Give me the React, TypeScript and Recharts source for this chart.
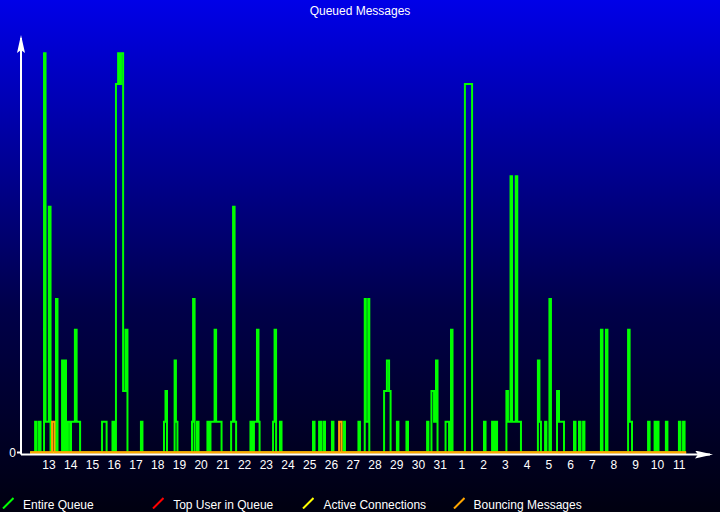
import { LineChart, Line, XAxis, YAxis } from 'recharts';

// day-of-month labels under the x axis, one per day
const dayLabels = [
  '13', '14', '15', '16', '17', '18', '19', '20', '21', '22', '23', '24', '25', '26', '27',
  '28', '29', '30', '31', '1', '2', '3', '4', '5', '6', '7', '8', '9', '10', '11'
];

// [day, queued messages] — day 1 is the 13th
const queueSamples: [number, number][] = [
  [0.13, 0],
  [0.36, 1], [0.43, 0], [0.54, 1], [0.61, 0],
  [0.77, 13], [0.84, 1], [0.99, 8], [1.07, 0],
  [1.32, 5], [1.39, 0],
  [1.60, 3], [1.64, 0], [1.71, 3], [1.78, 0],
  [1.87, 1], [1.97, 0], [2.01, 1], [2.19, 4], [2.27, 1], [2.43, 0],
  [3.44, 1], [3.65, 0], [3.92, 1], [3.99, 0],
  [4.08, 12], [4.18, 13], [4.24, 12], [4.31, 13], [4.41, 2], [4.52, 4], [4.61, 0],
  [5.23, 1], [5.30, 0],
  [6.29, 1], [6.36, 2], [6.43, 0],
  [6.78, 3], [6.84, 1], [6.91, 0],
  [7.58, 1], [7.63, 5], [7.70, 0], [7.81, 1], [7.88, 0],
  [8.29, 1], [8.36, 0], [8.43, 1], [8.62, 4], [8.69, 1], [8.94, 0],
  [9.38, 1], [9.47, 8], [9.54, 1], [9.61, 0],
  [10.27, 1], [10.34, 0], [10.43, 1], [10.57, 4], [10.64, 1], [10.69, 0],
  [11.31, 1], [11.38, 4], [11.45, 0], [11.63, 1], [11.70, 0],
  [13.15, 1], [13.22, 0], [13.43, 1], [13.52, 0], [13.63, 1], [13.70, 0],
  [14.02, 1], [14.09, 0], [14.55, 1], [14.62, 0],
  [15.24, 1], [15.31, 0],
  [15.53, 5], [15.58, 1], [15.69, 5], [15.74, 0],
  [16.42, 2], [16.55, 3], [16.65, 2], [16.72, 0],
  [17.01, 1], [17.08, 0], [17.45, 1], [17.52, 0],
  [18.40, 1], [18.46, 0], [18.60, 2], [18.72, 1], [18.81, 3], [18.88, 0],
  [19.25, 1], [19.41, 0], [19.50, 4], [19.57, 0],
  [20.14, 12], [20.47, 0],
  [21.02, 1], [21.09, 0], [21.39, 1], [21.46, 0], [21.55, 1], [21.62, 0],
  [22.05, 2], [22.12, 1], [22.24, 9], [22.31, 1], [22.48, 9], [22.55, 1], [22.72, 0],
  [23.50, 3], [23.57, 1], [23.64, 0], [23.83, 1], [23.89, 0],
  [24.03, 5], [24.10, 0],
  [24.38, 2], [24.47, 1], [24.70, 0],
  [25.16, 1], [25.23, 0], [25.39, 1], [25.46, 0], [25.58, 1], [25.64, 0],
  [26.40, 4], [26.47, 0], [26.63, 4], [26.70, 0],
  [27.65, 4], [27.72, 1], [27.83, 0],
  [28.57, 1], [28.64, 0], [28.87, 1], [28.91, 0], [28.98, 1], [29.05, 0],
  [29.39, 1], [29.46, 0],
  [29.99, 1], [30.06, 0], [30.18, 1], [30.25, 0],
  [30.32, 0]
];

// bouncing messages, only two short bursts
const bounceSamples: [number, number][] = [
  [0.13, 0], [1.14, 1], [1.25, 0], [14.35, 1], [14.46, 0], [30.32, 0]
];

// top user and active connections stayed at zero
const flatSamples: [number, number][] = [[0.13, 0], [30.32, 0]];

const seriesNames = ['Entire Queue', 'Top User in Queue', 'Active Connections', 'Bouncing Messages'];
const seriesColors = ['#00ff00', '#ff0000', '#ffff00', '#ffa500'];

const toRows = (s: [number, number][]) => s.map(([t, v]) => ({ t, v }));

const seriesData = [toRows(queueSamples), toRows(flatSamples), toRows(flatSamples), toRows(bounceSamples)];

const font = '"Liberation Sans", Arial, sans-serif';

const App = () => {
  const ticks = dayLabels.map((_, i) => i + 1);

  return (
    <div
      style={{
        position: 'absolute', left: 0, top: 0, width: 720, height: 512, overflow: 'hidden',
        background: 'linear-gradient(to bottom, #0000e8 0%, #00004a 60%, #000010 100%)',
        fontFamily: font
      }}
    >
      <svg width={0} height={0} style={{ position: 'absolute' }}>
        <defs>
          <marker
            id="axisArrow" viewBox="0 0 18 8" markerWidth={18} markerHeight={8}
            refX={15} refY={4} orient="auto-start-reverse" markerUnits="userSpaceOnUse"
          >
            <path d="M0,0 L18,4 L0,8 L3,4 z" fill="#ffffff" />
          </marker>
        </defs>
      </svg>

      <div
        style={{
          position: 'absolute', left: 0, top: 5, width: 720, textAlign: 'center',
          color: '#ffffff', fontSize: 12, lineHeight: '12px'
        }}
      >
        Queued Messages
      </div>

      <LineChart width={720} height={512} margin={{ top: 38, right: 10, bottom: 27.5, left: 0 }}>
        <XAxis
          dataKey="t"
          type="number"
          domain={[-0.29, 31.42]}
          ticks={ticks}
          tickFormatter={(i: number) => dayLabels[i - 1]}
          allowDataOverflow
          height={30}
          tickLine={false}
          tickSize={0}
          tickMargin={6}
          axisLine={{ stroke: '#ffffff', strokeWidth: 2, markerEnd: 'url(#axisArrow)' } as any}
          tick={{ fill: '#ffffff', fontSize: 12, fontFamily: font }}
        />
        <YAxis
          type="number"
          domain={[-0.065, 13.5]}
          ticks={[0]}
          allowDataOverflow
          width={21}
          tickSize={4}
          tickMargin={1}
          tickLine={{ stroke: '#ffffff', strokeWidth: 2 }}
          axisLine={{ stroke: '#ffffff', strokeWidth: 2, markerStart: 'url(#axisArrow)' } as any}
          tick={{ fill: '#ffffff', fontSize: 12, fontFamily: font }}
        />
        {seriesNames.map((name, i) => (
          <Line
            key={name}
            name={name}
            data={seriesData[i]}
            dataKey="v"
            type="stepAfter"
            stroke={seriesColors[i]}
            strokeWidth={2}
            dot={false}
            activeDot={false}
            isAnimationActive={false}
          />
        ))}
      </LineChart>

      {seriesNames.map((name, i) => (
        <div
          key={name}
          style={{
            position: 'absolute', left: 2 + i * 150.2, top: 497, display: 'flex',
            alignItems: 'flex-start', color: '#ffffff', fontSize: 12, lineHeight: '12px'
          }}
        >
          <svg width={12} height={12}>
            <line x1={1} y1={11.5} x2={11.5} y2={1} stroke={seriesColors[i]} strokeWidth={2} />
          </svg>
          <span style={{ marginLeft: 9, marginTop: 1.5 }}>{name}</span>
        </div>
      ))}
    </div>
  );
};

export default App;
